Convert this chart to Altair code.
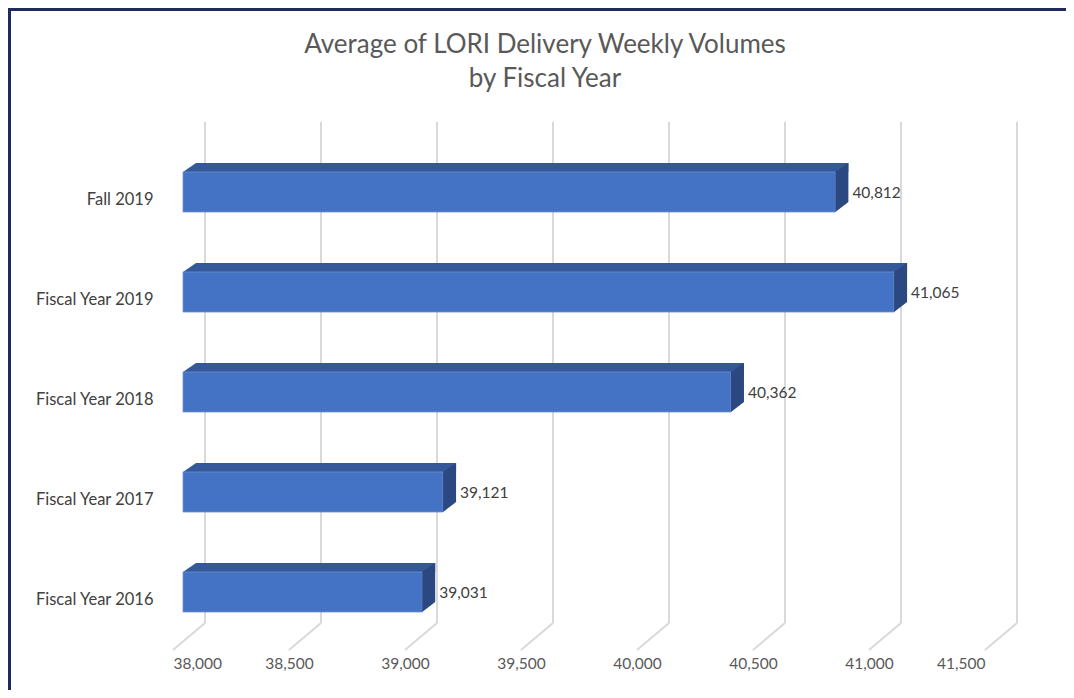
import altair as alt
import pandas as pd

categories = ["Fall 2019", "Fiscal Year 2019", "Fiscal Year 2018", "Fiscal Year 2017", "Fiscal Year 2016"]
values = [40812, 41065, 40362, 39121, 39031]
tick_values = [38000, 38500, 39000, 39500, 40000, 40500, 41000, 41500]
x_min, x_max = 38000, 41500
title_lines = ["Average of LORI Delivery Weekly Volumes", "by Fiscal Year"]

bars = pd.DataFrame({"category": categories, "value": values})
ticks = pd.DataFrame({"tick": tick_values})
title_df = pd.DataFrame({"t": ["\n".join(title_lines)]})

FONT = "Lato"
FRONT = "#4472c4"
TOP = "#34589a"
SIDE = "#2b4880"
GRID = "#d9d9d9"

xscale = alt.Scale(domain=[x_min, x_max], nice=False, zero=False)
yscale = alt.Scale(domain=categories, paddingInner=0, paddingOuter=0)

x_axis = alt.Axis(values=tick_values, format=",", labelExpr="format(datum.value, ',')",
                  domain=False, ticks=False, grid=False,
                  labelPadding=14, labelFont=FONT, labelFontSize=15.5, labelColor="#595959",
                  title=None)
y_axis = alt.Axis(domain=False, ticks=False, grid=False, labelPadding=20, labelOffset=8,
                  labelFont=FONT, labelFontSize=16.5, labelColor="#404040", title=None)

X = lambda f: alt.X(f, scale=xscale, axis=x_axis)
Y = lambda: alt.Y("category:N", scale=yscale, sort=categories, axis=y_axis)

# back-wall gridlines
grid_back = alt.Chart(ticks).mark_rule(color=GRID, strokeWidth=2, xOffset=32).encode(
    x=X("tick:Q"),
    y=alt.value(-20), y2=alt.value(481),
)
# floor gridlines (diagonal)
grid_floor = alt.Chart(ticks).mark_rule(color=GRID, strokeWidth=2, x2Offset=32).encode(
    x=X("tick:Q"),
    x2=alt.X2("tick:Q"),
    y=alt.value(508), y2=alt.value(481),
)

base = alt.Chart(bars)

top_face = base.mark_bar(color=TOP, height=9, yOffset=-24.5, xOffset=23, x2Offset=23).encode(
    x=X("value:Q"),
    x2=alt.X2(datum=x_min),
    y=Y(),
)
top_corner = base.mark_point(filled=True, opacity=1, color=TOP, strokeWidth=0, size=400,
                             shape="M 1 -2 L 2.3 -2.9 L 2.3 -2 Z").encode(
    x=alt.X(datum=x_min, scale=xscale, axis=x_axis),
    y=Y(),
)
front_face = base.mark_bar(color=FRONT, height=40, xOffset=10, x2Offset=10,
                           stroke="#6e8fd0", strokeWidth=0.8).encode(
    x=X("value:Q"),
    x2=alt.X2(datum=x_min),
    y=Y(),
)
side_face = base.mark_point(filled=True, opacity=1, color=SIDE, strokeWidth=0, size=400,
                            shape="M 1 -2 L 2.3 -2.9 L 2.3 1 L 1 2 Z").encode(
    x=X("value:Q"),
    y=Y(),
)
labels = base.mark_text(align="left", baseline="middle", xOffset=27, yOffset=1,
                        font=FONT, fontSize=15.5, color="#404040").encode(
    x=X("value:Q"),
    y=Y(),
    text=alt.Text("value:Q", format=","),
)

title = alt.Chart(title_df).mark_text(
    lineBreak="\n", lineHeight=34, align="center", baseline="middle",
    font=FONT, fontSize=26, color="#595959",
).encode(text="t:N", x=alt.value(372), y=alt.value(-97))

# outer frame (left and top edges)
frame_left = alt.Chart(ticks).mark_rule(color="#1f2a5e", strokeWidth=5).encode(
    x=alt.value(-165), y=alt.value(-134), y2=alt.value(548))
frame_top = alt.Chart(ticks).mark_rule(color="#1f2a5e", strokeWidth=5).encode(
    x=alt.value(-165), x2=alt.value(893), y=alt.value(-134))

chart = alt.layer(
    grid_back, grid_floor, top_face, top_corner, front_face, side_face, labels,
    title, frame_left, frame_top,
).properties(
    width=812, height=500,
    background="white",
    autosize=alt.AutoSizeParams(type="none"),
    padding={"left": 165, "top": 134, "right": 81, "bottom": 48},
).configure_view(strokeWidth=0, stroke=None)

chart.save("out.html", embed_options={"renderer": "svg", "actions": False})
